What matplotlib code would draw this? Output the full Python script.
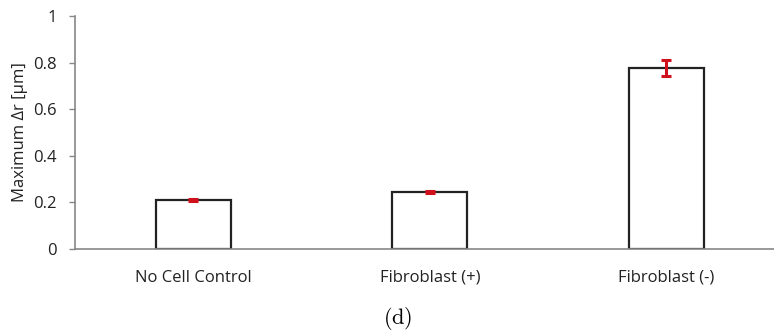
import matplotlib
matplotlib.use("Agg")
import matplotlib.pyplot as plt

categories = ["No Cell Control", "Fibroblast (+)", "Fibroblast (-)"]
max_dr = [0.208, 0.243, 0.776]
err = [0.004, 0.004, 0.035]

plt.rcParams["font.family"] = ["Open Sans", "DejaVu Sans"]
plt.rcParams["mathtext.fontset"] = "cm"

fig = plt.figure(figsize=(7.74, 3.35), dpi=100)
ax = fig.add_axes([75 / 774, 86.3 / 335, 699 / 774, 232.7 / 335])

x = range(len(categories))
ax.bar(x, max_dr, width=0.317, color="white", edgecolor="#222222", linewidth=1.6, zorder=2)
ax.errorbar(x, max_dr, yerr=err, fmt="none", ecolor="#d0101c", elinewidth=2.2,
            capsize=3.5, capthick=2.2, zorder=3)

ax.set_xlim(-0.5, 2.455)
ax.set_ylim(0, 1)
ax.set_yticks([0, 0.2, 0.4, 0.6, 0.8, 1.0])
ax.set_yticklabels(["0", "0.2", "0.4", "0.6", "0.8", "1"])
ax.set_xticks(list(x))
ax.set_xticklabels(categories)
ax.tick_params(axis="x", length=0, pad=15, labelsize=12, colors="#222222")
ax.tick_params(axis="y", length=4, width=1, color="#888888", pad=9, labelsize=12, labelcolor="#222222")

for side in ("top", "right"):
    ax.spines[side].set_visible(False)
for side in ("left", "bottom"):
    ax.spines[side].set_color("#888888")
    ax.spines[side].set_linewidth(1.2)

ax.set_ylabel("Maximum Δr [μm]", fontsize=12, color="#222222", labelpad=4)

fig.text(398 / 774, 1 - 318 / 335, r"$\mathrm{(d)}$", ha="center", va="center", fontsize=16)

fig.savefig("out.png", dpi=100)
